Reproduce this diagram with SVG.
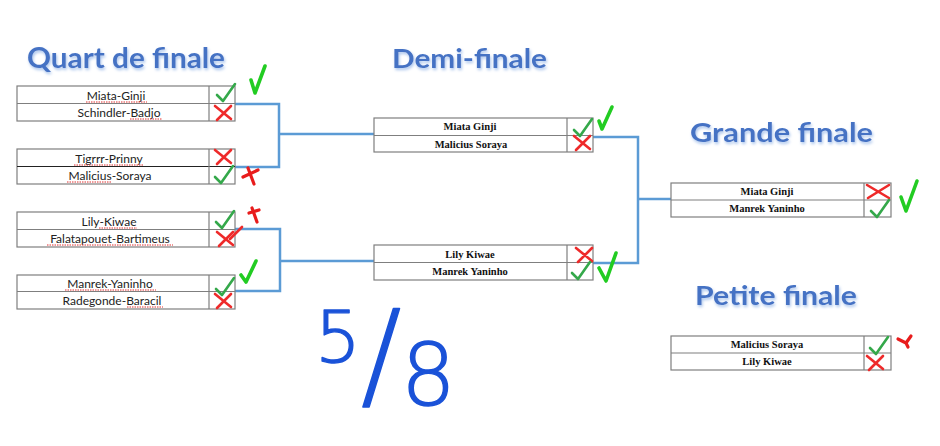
<svg xmlns="http://www.w3.org/2000/svg" xmlns:xlink="http://www.w3.org/1999/xlink" width="940" height="446" viewBox="0 0 940 446">
<style>
.title{font-family:Lato,"Open Sans","Liberation Sans",sans-serif;font-weight:bold;fill:#4472c4;filter:url(#glow)}
.cell{fill:#fff;stroke:#7f7f7f;stroke-width:1.2}
.ln{stroke:#7f7f7f;stroke-width:1.2}
.qn{font-family:Lato,"Liberation Sans",sans-serif;font-size:12px;fill:#222;text-anchor:middle}
.dn{font-family:"Liberation Serif","Times New Roman",serif;font-weight:bold;font-size:10.5px;fill:#111;text-anchor:middle}
.sq{stroke:#e03030;stroke-width:1;stroke-dasharray:1.5 1;fill:none}
.conn{fill:none;stroke:#5b9bd5;stroke-width:2.5}
.ck{fill:none;stroke:#34a84a;stroke-width:2.6;stroke-linecap:round;stroke-linejoin:round}
.cx{fill:none;stroke:#ee2a2a;stroke-width:2.6;stroke-linecap:round}
.hg{fill:none;stroke:#22cc22;stroke-width:3.6;stroke-linecap:round;stroke-linejoin:round}
.hr{fill:none;stroke:#e81c1c;stroke-width:3.2;stroke-linecap:round;stroke-linejoin:round}
.ink{font-family:"DejaVu Sans",sans-serif;font-weight:200;fill:#1a52d8;stroke:#1a52d8;stroke-width:1.4;stroke-linejoin:round}
</style>
<defs>
<filter id="glow" x="-10%" y="-30%" width="120%" height="160%">
<feGaussianBlur in="SourceAlpha" stdDeviation="1.6" result="b"/>
<feOffset in="b" dx="1" dy="1.5" result="o"/>
<feFlood flood-color="#a9c4ec" result="f"/>
<feComposite in="f" in2="o" operator="in" result="s"/>
<feMerge><feMergeNode in="s"/><feMergeNode in="SourceGraphic"/></feMerge>
</filter>
<path id="chk" d="M0 8 L6 14 L18 -3"/>
<path id="crs" d="M0 0 L16 13 M16 0 L2 14"/>
</defs>
<rect width="940" height="446" fill="#fff"/>

<g id="titles">
<text class="title" x="27" y="68" font-size="28" textLength="198" lengthAdjust="spacingAndGlyphs">Quart de finale</text>
<text class="title" x="392" y="68" font-size="27" textLength="155" lengthAdjust="spacingAndGlyphs">Demi-finale</text>
<text class="title" x="690" y="142" font-size="27" textLength="183" lengthAdjust="spacingAndGlyphs">Grande finale</text>
<text class="title" x="695" y="305" font-size="27" textLength="162" lengthAdjust="spacingAndGlyphs">Petite finale</text>
</g>

<g id="connectors">
<path class="conn" d="M235 104 H279 V167 H235 M279 134 H374"/>
<path class="conn" d="M235 229 H280 V291 H235 M280 261 H374"/>
<path class="conn" d="M593 137 H638 V263 H593 M638 199 H671"/>
</g>

<g id="q1">
<rect class="cell" x="17" y="86" width="218" height="35"/>
<line class="ln" x1="17" y1="103.5" x2="235" y2="103.5"/>
<line class="ln" x1="209" y1="86" x2="209" y2="121"/>
<text class="qn" x="116" y="100">Miata-Ginji</text>
<text class="qn" x="119" y="117">Schindler-Badjo</text>
<path class="sq" d="M86 102 H147 M130 119 H162"/>
<use xlink:href="#chk" class="ck" x="217" y="87"/>
<use xlink:href="#crs" class="cx" x="215" y="106"/>
</g>

<g id="q2">
<rect class="cell" x="17" y="149" width="218" height="35"/>
<line x1="17" y1="166.5" x2="235" y2="166.5" stroke="#222" stroke-width="1.2"/>
<line class="ln" x1="209" y1="149" x2="209" y2="184"/>
<text class="qn" x="109" y="163">Tigrrr-Prinny</text>
<text class="qn" x="110" y="180">Malicius-Soraya</text>
<path class="sq" d="M74 165 H143 M67 182 H112"/>
<use xlink:href="#crs" class="cx" x="215" y="150"/>
<use xlink:href="#chk" class="ck" x="215" y="169"/>
</g>

<g id="q3">
<rect class="cell" x="17" y="212" width="218" height="35"/>
<line class="ln" x1="17" y1="229.5" x2="235" y2="229.5"/>
<line class="ln" x1="209" y1="212" x2="209" y2="247"/>
<text class="qn" x="109" y="226">Lily-Kiwae</text>
<text class="qn" x="110" y="243">Falatapouet-Bartimeus</text>
<path class="sq" d="M99 228 H137 M47 245 H173"/>
<use xlink:href="#chk" class="ck" x="216" y="214"/>
<use xlink:href="#crs" class="cx" x="217" y="232"/>
<path class="cx" d="M230 239 L242 227" stroke-width="2"/>
</g>

<g id="q4">
<rect class="cell" x="17" y="275" width="218" height="34"/>
<line class="ln" x1="17" y1="291.5" x2="235" y2="291.5"/>
<line class="ln" x1="209" y1="275" x2="209" y2="309"/>
<text class="qn" x="110" y="288">Manrek-Yaninho</text>
<text class="qn" x="112" y="305">Radegonde-Baracil</text>
<path class="sq" d="M65 290 H156 M127 307 H163"/>
<use xlink:href="#chk" class="ck" x="216" y="281"/>
<use xlink:href="#crs" class="cx" x="215" y="294"/>
</g>

<g id="d1">
<rect class="cell" x="374" y="118" width="219" height="34"/>
<line class="ln" x1="374" y1="135.5" x2="593" y2="135.5"/>
<line class="ln" x1="567" y1="118" x2="567" y2="152"/>
<text class="dn" x="470" y="130">Miata Ginji</text>
<text class="dn" x="471" y="148">Malicius Soraya</text>
<use xlink:href="#chk" class="ck" x="574" y="122"/>
<use xlink:href="#crs" class="cx" x="574" y="136"/>
</g>

<g id="d2">
<rect class="cell" x="374" y="245" width="219" height="35"/>
<line class="ln" x1="374" y1="262.5" x2="593" y2="262.5"/>
<line class="ln" x1="567" y1="245" x2="567" y2="280"/>
<text class="dn" x="470" y="258">Lily Kiwae</text>
<text class="dn" x="470" y="275">Manrek Yaninho</text>
<use xlink:href="#crs" class="cx" x="576" y="248"/>
<use xlink:href="#chk" class="ck" x="572" y="265"/>
</g>

<g id="gf">
<rect class="cell" x="671" y="183" width="220" height="34"/>
<line class="ln" x1="671" y1="200" x2="891" y2="200"/>
<line class="ln" x1="864" y1="183" x2="864" y2="217"/>
<text class="dn" x="767" y="195">Miata Ginji</text>
<text class="dn" x="767" y="212">Manrek Yaninho</text>
<path class="cx" d="M867 185 L889 198 M889 185 L868 198"/>
<use xlink:href="#chk" class="ck" x="871" y="203"/>
</g>

<g id="pf">
<rect class="cell" x="671" y="336" width="220" height="34"/>
<line class="ln" x1="671" y1="353" x2="891" y2="353"/>
<line class="ln" x1="864" y1="336" x2="864" y2="370"/>
<text class="dn" x="767" y="348">Malicius Soraya</text>
<text class="dn" x="767" y="365">Lily Kiwae</text>
<use xlink:href="#chk" class="ck" x="870" y="340"/>
<use xlink:href="#crs" class="cx" x="867" y="356"/>
</g>

<g id="annotations">
<path class="hg" d="M251 80 L255 93 L265 66"/>
<path class="hr" d="M243 177 L258 170 M248 168 L254 184"/>
<path class="hr" d="M249 213 L259 210 M252 208 L257 222"/>
<path class="hg" d="M241 275 L246 282 L256 261"/>
<path class="hg" d="M599 121 L602 129 L612 107"/>
<path class="hg" d="M599 268 L606 281 L616 253"/>
<path class="hg" d="M901 197 L906 211 L917 181"/>
<path class="hr" d="M898 339 L906 343 L911 336 M906 343 L908 347"/>
<text class="ink"><tspan x="315" y="362" font-size="72">5</tspan><tspan x="361" y="396" font-size="120">/</tspan><tspan x="401" y="405" font-size="86">8</tspan></text>
</g>
</svg>
